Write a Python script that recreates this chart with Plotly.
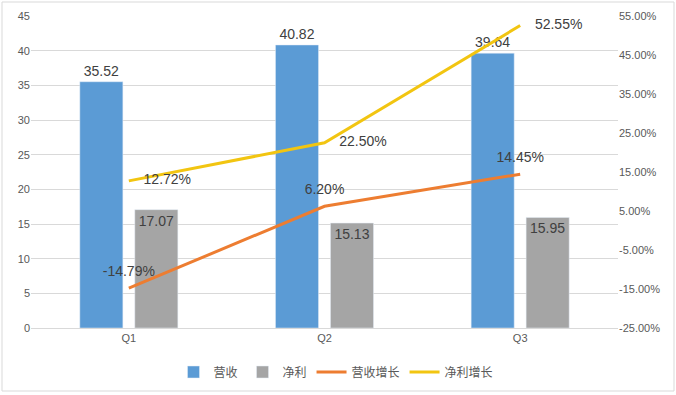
import plotly.graph_objects as go

categories = ["Q1", "Q2", "Q3"]
revenue = [35.52, 40.82, 39.64]
profit = [17.07, 15.13, 15.95]
revenue_growth = [-14.79, 6.20, 14.45]
profit_growth = [12.72, 22.50, 52.55]

left_ticks = [0, 5, 10, 15, 20, 25, 30, 35, 40, 45]
right_ticks = [-25, -15, -5, 5, 15, 25, 35, 45, 55]
right_tick_labels = ["-25.00%", "-15.00%", "-5.00%", "5.00%", "15.00%",
                     "25.00%", "35.00%", "45.00%", "55.00%"]

W, H = 676, 395
ml, mr, mt, mb = 31, 58, 16, 67
pw, ph = W - ml - mr, H - mt - mb

font_family = "Liberation Sans, Noto Sans CJK SC, sans-serif"
label_color = "#404040"

fig = go.Figure()
fig.add_trace(go.Bar(
    name="营收", x=categories, y=revenue, marker_color="#5B9BD5",
    text=[f"{v:.2f}" for v in revenue], textposition="outside",
    textfont=dict(size=14, color=label_color), cliponaxis=False,
))
fig.add_trace(go.Bar(
    name="净利", x=categories, y=profit, marker_color="#A5A5A5",
    text=[f"{v:.2f}" for v in profit], textposition="inside",
    insidetextanchor="end",
    insidetextfont=dict(size=14, color=label_color),
))
fig.add_trace(go.Scatter(
    name="营收增长", x=categories, y=revenue_growth, yaxis="y2",
    mode="lines+markers+text", line=dict(color="#ED7D31", width=3),
    marker=dict(size=12, color="rgba(0,0,0,0)"),
    text=[f"{v:.2f}%" for v in revenue_growth], textposition="top center",
    textfont=dict(size=14, color=label_color), cliponaxis=False,
))
fig.add_trace(go.Scatter(
    name="净利增长", x=categories, y=profit_growth, yaxis="y2",
    mode="lines+markers+text", line=dict(color="#F2C511", width=3),
    marker=dict(size=22, color="rgba(0,0,0,0)"),
    text=[f"{v:.2f}%" for v in profit_growth], textposition="middle right",
    textfont=dict(size=14, color=label_color), cliponaxis=False,
))

fig.update_layout(
    width=W, height=H,
    margin=dict(l=ml, r=mr, t=mt, b=mb, autoexpand=False),
    paper_bgcolor="white", plot_bgcolor="white",
    font=dict(family=font_family, color="#595959", size=11),
    barmode="group", bargap=0.438, bargroupgap=0.217,
    showlegend=True,
    legend=dict(orientation="h", x=(336 - ml) / pw, xanchor="center",
                y=-(372 - (H - mb)) / ph, yanchor="middle",
                font=dict(size=12, color="#595959"),
                itemwidth=30, tracegroupgap=0),
    xaxis=dict(range=[-0.5, 2.5], showgrid=False, showline=True,
               linecolor="#D9D9D9", ticks="", tickfont=dict(size=11)),
    yaxis=dict(range=[0, 45], tickvals=left_ticks, showgrid=True,
               gridcolor="#D9D9D9", zeroline=False, showline=False,
               ticks="", tickfont=dict(size=11)),
    yaxis2=dict(range=[-25, 55], overlaying="y", side="right",
                tickvals=right_ticks, ticktext=right_tick_labels,
                showgrid=False, zeroline=False, showline=False,
                ticks="", tickfont=dict(size=11)),
    shapes=[dict(type="rect", xref="paper", yref="paper",
                 x0=(2 - ml) / pw, x1=(674 - ml) / pw,
                 y0=-(391 - mt - ph) / ph, y1=1 + (mt - 2) / ph,
                 line=dict(color="#D9D9D9", width=1), layer="below")],
)

fig.write_html("out.html", config={"displayModeBar": False},
               post_script="document.body.style.margin='0';")
